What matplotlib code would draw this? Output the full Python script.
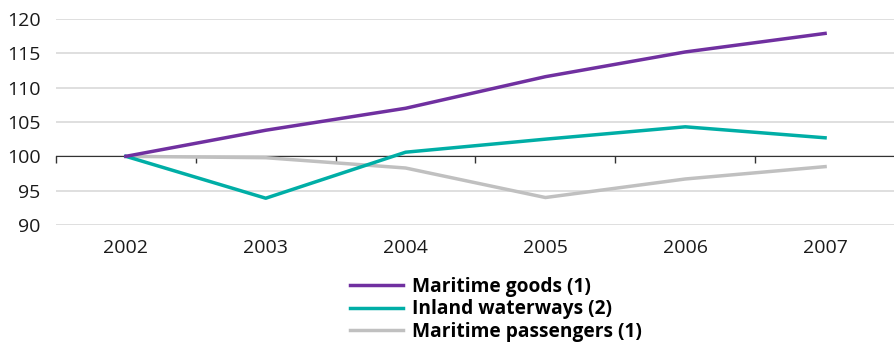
import matplotlib.pyplot as plt

plt.rcParams['font.family'] = ['Open Sans', 'DejaVu Sans']

# Data (index, 2002 = 100)
years = ['2002', '2003', '2004', '2005', '2006', '2007']
maritime_goods = [100, 103.8, 107.0, 111.6, 115.2, 117.9]
inland_waterways = [100, 93.9, 100.6, 102.5, 104.3, 102.7]
maritime_passengers = [100, 99.8, 98.3, 94.0, 96.7, 98.5]
y_ticks = [90, 95, 100, 105, 110, 115, 120]

fig = plt.figure(figsize=(8.95, 3.43), dpi=100)
ax = fig.add_axes([56 / 895, (343 - 225) / 343, 1 - 56 / 895, 206 / 343])

x = range(len(years))
ax.plot(x, maritime_goods, color='#7030a0', lw=2.5, label='Maritime goods (1)', zorder=4)
ax.plot(x, inland_waterways, color='#00aea6', lw=2.5, label='Inland waterways (2)', zorder=3)
ax.plot(x, maritime_passengers, color='#c0c0c0', lw=2.5, label='Maritime passengers (1)', zorder=2)

ax.set_xlim(-0.5, len(years) - 0.5)
ax.set_ylim(90, 120)
ax.set_yticks(y_ticks)
ax.grid(axis='y', color='#d9d9d9', lw=1.2)
ax.set_axisbelow(True)
ax.tick_params(axis='y', length=0, labelsize=14, pad=11, colors='#1a1a1a')

for s in ['top', 'right', 'left']:
    ax.spines[s].set_visible(False)

# category axis line sits at 100, with boundary tick marks
ax.spines['bottom'].set_position(('data', 100))
ax.spines['bottom'].set_color('#333333')
ax.spines['bottom'].set_zorder(1)
ax.set_xticks([i - 0.5 for i in range(len(years) + 1)])
ax.set_xticklabels([])
ax.tick_params(axis='x', direction='out', length=5, width=1, colors='#333333')

sec = ax.secondary_xaxis(0.0)
sec.set_xticks(list(x))
sec.set_xticklabels(years)
sec.tick_params(length=0, labelsize=14, pad=10, colors='#1a1a1a')
sec.spines['bottom'].set_visible(False)

leg = fig.legend(loc='upper left', bbox_to_anchor=(350 / 895, 1 - 277 / 343),
                 frameon=False, prop={'weight': 'bold', 'size': 13.8},
                 handlelength=2.75, handletextpad=0.5, labelspacing=0.13,
                 borderaxespad=0, borderpad=0)

fig.savefig('out.png', dpi=100)
